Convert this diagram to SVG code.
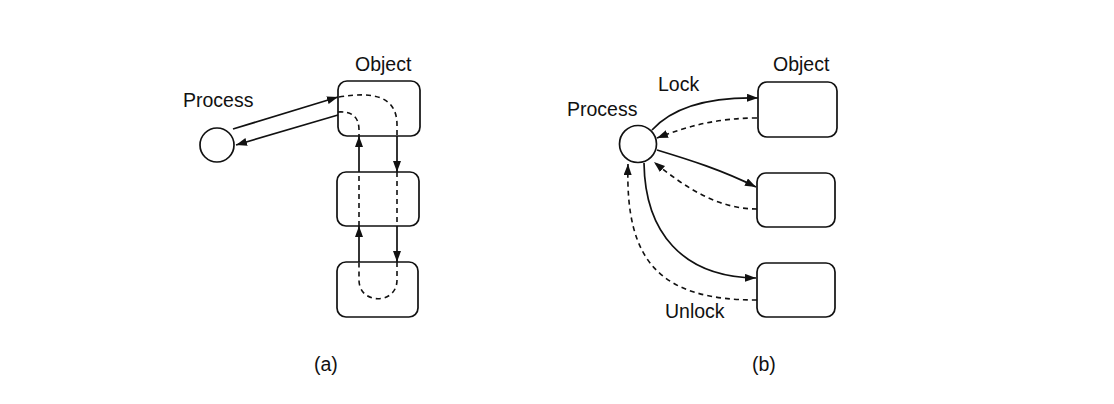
<svg xmlns="http://www.w3.org/2000/svg" width="1114" height="404" viewBox="0 0 1114 404">
<defs>
<marker id="ah" markerUnits="userSpaceOnUse" markerWidth="11" markerHeight="8" refX="11" refY="4" orient="auto">
<path d="M0,0 L11,4 L0,8 z" fill="#111"/>
</marker>
<style>
.box{fill:#fff;stroke:#111;stroke-width:1.7}
.ln{fill:none;stroke:#111;stroke-width:1.7}
.dl{fill:none;stroke:#111;stroke-width:1.6;stroke-dasharray:5 4}
.t{font-family:"Liberation Sans",Arial,sans-serif;font-size:19.5px;fill:#111}
</style>
</defs>
<rect width="1114" height="404" fill="#fff"/>
<g id="a-process"><circle cx="217" cy="145" r="17" class="box"/><text class="t" x="183" y="107">Process</text></g>
<g id="a-obj1"><rect x="338" y="81" width="82" height="55" rx="9" class="box"/><text class="t" x="355" y="71">Object</text></g>
<g id="a-obj2"><rect x="337" y="172" width="82" height="54" rx="9" class="box"/></g>
<g id="a-obj3"><rect x="337" y="262" width="81" height="55" rx="9" class="box"/></g>
<g id="b-process"><circle cx="638" cy="144" r="18.5" class="box"/><text class="t" x="567" y="116">Process</text></g>
<g id="b-obj1"><rect x="758" y="82" width="79" height="55" rx="9" class="box"/><text class="t" x="773" y="71">Object</text></g>
<g id="b-obj2"><rect x="757" y="173" width="78" height="54" rx="9" class="box"/></g>
<g id="b-obj3"><rect x="757" y="263" width="78" height="54" rx="9" class="box"/></g>
<g id="labels">
<text class="t" x="658" y="91">Lock</text>
<text class="t" x="665" y="318">Unlock</text>
<text class="t" x="314" y="371">(a)</text>
<text class="t" x="752" y="371">(b)</text>
</g>
<g id="connectors">
<path class="ln" d="M233,129 L338,97" marker-end="url(#ah)"/>
<path class="ln" d="M338,115 L236,145" marker-end="url(#ah)"/>
<path class="dl" d="M339,97 C375,91 397,97 397,125 L397,136"/>
<path class="dl" d="M338,112 C352,111 359,117 359,130 L359,136"/>
<path class="ln" d="M397,136 L397,172" marker-end="url(#ah)"/>
<path class="dl" d="M397,172 L397,226"/>
<path class="ln" d="M397,226 L397,262" marker-end="url(#ah)"/>
<path class="dl" d="M397,262 L397,280 C397,305 359,305 359,280 L359,262"/>
<path class="ln" d="M359,262 L359,226" marker-end="url(#ah)"/>
<path class="dl" d="M359,226 L359,172"/>
<path class="ln" d="M359,172 L359,136" marker-end="url(#ah)"/>
<path class="ln" d="M652,130 C675,105 712,97 758,98" marker-end="url(#ah)"/>
<path class="dl" d="M757,118 C720,118 690,125 657,138" marker-end="url(#ah)"/>
<path class="ln" d="M657,150 C690,160 722,170 756,187" marker-end="url(#ah)"/>
<path class="dl" d="M757,209 C720,209 688,190 654,162" marker-end="url(#ah)"/>
<path class="ln" d="M644,163 C645,232 682,277 756,278" marker-end="url(#ah)"/>
<path class="dl" d="M757,300 C660,300 625,262 628,164" marker-end="url(#ah)"/>
</g>
</svg>
